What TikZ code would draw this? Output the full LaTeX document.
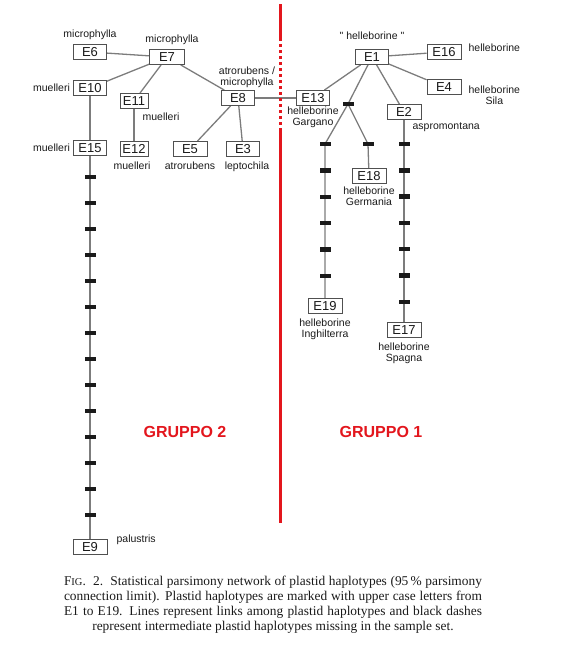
\documentclass[tikz,border=0pt]{standalone}
\usepackage{fontspec}
\setmainfont{Liberation Serif}
\newfontfamily\helv{Liberation Sans}
\usetikzlibrary{positioning,backgrounds}
\definecolor{hapInk}{HTML}{1A1A1A}
\definecolor{hapLine}{HTML}{7C7C7C}
\definecolor{hapBox}{HTML}{505050}
\definecolor{hapRed}{HTML}{E3161D}
\tikzset{
  hap/.style={draw=hapBox,line width=0.9pt,fill=white,inner sep=0pt,
              minimum width=33pt,minimum height=15pt,
              font=\helv\fontsize{13}{13}\selectfont,text=hapInk},
  link/.style={draw=hapLine,line width=1.3pt},
  miss/.style={fill=hapInk,draw=none,inner sep=0pt,minimum width=11pt,minimum height=4.5pt},
  lbl/.style={font=\helv\fontsize{10.5}{11}\selectfont,text=hapInk,inner sep=0pt,align=center},
  grp/.style={font=\helv\bfseries\fontsize{16}{16}\selectfont,text=hapRed,inner sep=0pt},
  capt/.style={font=\fontsize{13.4}{15}\selectfont,text=hapInk,inner sep=0pt},
  sep/.style={draw=hapRed,line width=3pt},
}
\newcommand\capline[1]{\hbox to 418pt{#1}}

\begin{document}
\begin{tikzpicture}[x=1pt,y=-1pt]
  \useasboundingbox (0,0) rectangle (565,654);

  % gruppo 2
  \node[hap] (E6) at (90,52) {E6};
  \node[hap,minimum width=35pt] (E7) at (167,57) {E7};
  \node[hap] (E10) at (90,88) {E10};
  \node[hap,minimum width=28pt] (E11) at (134,101) {E11};
  \node[hap] (E8) at (238,98) {E8};
  \node[hap] (E15) at (90,148) {E15};
  \node[hap,minimum width=28pt] (E12) at (134,149) {E12};
  \node[hap,minimum width=34pt] (E5) at (190,149) {E5};
  \node[hap] (E3) at (243,149) {E3};
  \node[hap,minimum width=34pt] (E9) at (90,547) {E9};

  \node[lbl,above=4pt of E6] (l6) {microphylla};
  \node[lbl,above=4pt of E7,xshift=5pt] (l7) {microphylla};
  \node[lbl,left=3pt of E10] (l10) {muelleri};
  \node[lbl,below right=4pt and -6pt of E11] (l11) {muelleri};
  \node[lbl,above=2pt of E8,xshift=9pt] (l8) {atrorubens /\\microphylla};
  \node[lbl,left=3pt of E15] (l15) {muelleri};
  \node[lbl,below=5pt of E12,xshift=-2pt] (l12) {muelleri};
  \node[lbl,below=5pt of E5] (l5) {atrorubens};
  \node[lbl,below=5pt of E3,xshift=4pt] (l3) {leptochila};
  \node[lbl,right=9pt of E9,yshift=7pt] (l9) {palustris};

  % gruppo 1
  \node[hap] (E1) at (372,57) {E1};
  \node[hap,minimum width=34pt] (E16) at (444,52) {E16};
  \node[hap,minimum width=34pt] (E4) at (444,87) {E4};
  \node[hap] (E13) at (313,98) {E13};
  \node[hap,minimum width=34pt] (E2) at (404,112) {E2};
  \node[hap,minimum width=34pt] (E18) at (369,176) {E18};
  \node[hap,minimum width=34pt] (E19) at (325,306) {E19};
  \node[hap,minimum width=34pt] (E17) at (404,330) {E17};

  \node[lbl,above=9pt of E1] (l1) {" helleborine "};
  \node[lbl,right=7pt of E16,yshift=4pt] (l16) {helleborine};
  \node[lbl,right=7pt of E4,yshift=-8pt] (l4) {helleborine\\Sila};
  \node[lbl,below=1pt of E13] (l13) {helleborine\\Gargano};
  \node[lbl,below right=3pt and -9pt of E2] (l2) {aspromontana};
  \node[lbl,below=3pt of E18] (l18) {helleborine\\Germania};
  \node[lbl,below=5pt of E19] (l19) {helleborine\\Inghilterra};
  \node[lbl,below=5pt of E17] (l17) {helleborine\\Spagna};

  % missing haplotypes
  \node[miss] (J) at (348,104) {};
  \node[miss] (m18) at (368,144) {};
  \foreach \k in {1,...,14}
    \node[miss] (m15-\k) at (90,{151+26*\k}) {};
  \foreach \k in {0,...,5}
    \node[miss] (m19-\k) at (325,{144+26.4*\k}) {};
  \foreach \k in {0,...,6}
    \node[miss] (m17-\k) at (404,{144+26.3*\k}) {};

  \begin{scope}[on background layer]
    \draw[link] (E6) -- (E7);
    \draw[link] (E7) -- (E10);
    \draw[link] (E7) -- (E11);
    \draw[link] (E7) -- (E8);
    \draw[link] (E10) -- (E15);
    \draw[link] (E11) -- (E12);
    \draw[link] (E8) -- (E5);
    \draw[link] (E8) -- (E3);
    \draw[link] (E8) -- (E13);
    \draw[link] (E15) -- (E9);
    \draw[link] (E1) -- (E16);
    \draw[link] (E1) -- (E4);
    \draw[link] (E1) -- (E13);
    \draw[link] (E1) -- (E2);
    \draw[link] (E1) -- (J.center);
    \draw[link] (J.center) -- (m19-0.center) -- (E19);
    \draw[link] (J.center) -- (m18.center) -- (E18);
    \draw[link] (E2) -- (E17);
  \end{scope}

  % separation line
  \draw[sep] (280,4) -- (280,38);
  \draw[sep,dash pattern=on 3pt off 3pt] (280,38) -- (280,130);
  \draw[sep] (280,130) -- (280,523);

  \node[grp] (g2) at (185,432) {GRUPPO 2};
  \node[grp] (g1) at (381,432) {GRUPPO 1};

  \node[capt] (cap) at (273,605) {\vbox{\hsize=418pt
    \capline{F{\fontsize{10.5}{10.5}\selectfont IG}.\ \ 2.\ \ Statistical parsimony network of plastid haplotypes (95\,\% parsimony}
    \capline{connection limit). Plastid haplotypes are marked with upper case letters from}
    \capline{E1 to E19. Lines represent links among plastid haplotypes and black dashes}
    \capline{\hfil represent intermediate plastid haplotypes missing in the sample set.\hfil}}};
\end{tikzpicture}
\end{document}
